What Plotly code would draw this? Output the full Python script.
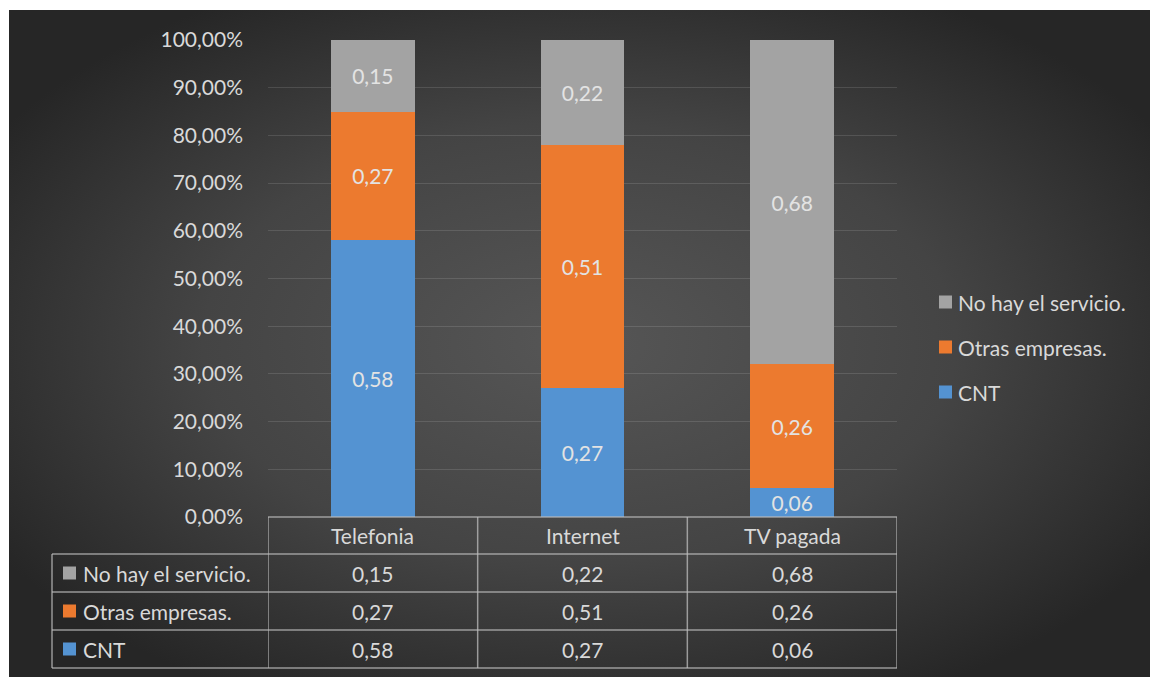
import base64
import plotly.graph_objects as go

# ---- data ----
categories = ["Telefonia", "Internet", "TV pagada"]
series_names = ["CNT", "Otras empresas.", "No hay el servicio."]
cnt = [0.58, 0.27, 0.06]
otras = [0.27, 0.51, 0.26]
no_hay = [0.15, 0.22, 0.68]
y_ticks = [0, 0.1, 0.2, 0.3, 0.4, 0.5, 0.6, 0.7, 0.8, 0.9, 1.0]

series_values = [cnt, otras, no_hay]
colors = ["#5493d2", "#ec7a2f", "#a3a3a3"]

W, H = 1150, 677
L, R, T, B = 268, 1150 - 897, 40, 677 - 517
PW, PH = W - L - R, H - T - B
FONT = "Lato, Calibri, Carlito, sans-serif"
FS = 21
TXT = "#d9d9d9"
LINE = "rgba(190,190,190,0.75)"


def px(xp):
    return (xp - L) / PW


def py(yp):
    return (H - B - yp) / PH


def fmt(v):
    return f"{v:.2f}".replace(".", ",")


fig = go.Figure()
for name, vals, col in zip(series_names, series_values, colors):
    fig.add_trace(go.Bar(
        x=list(range(len(categories))), y=vals, name=name,
        marker=dict(color=col, line=dict(width=0)),
        width=0.4,
        text=[fmt(v) for v in vals], textposition="inside",
        insidetextanchor="middle", textangle=0,
        textfont=dict(family=FONT, size=FS, color="#e3e3e3"),
        showlegend=False, hoverinfo="skip",
    ))

# background radial gradient
svg = f"""<svg xmlns='http://www.w3.org/2000/svg' width='{W-9}' height='{H-10}' viewBox='0 0 100 100' preserveAspectRatio='none'>
<defs><radialGradient id='g' cx='50%' cy='50%' r='60%'>
<stop offset='0%' stop-color='#565656'/><stop offset='55%' stop-color='#444444'/><stop offset='100%' stop-color='#262626'/>
</radialGradient></defs><rect x='0' y='0' width='100' height='100' fill='url(#g)'/></svg>"""
src = "data:image/svg+xml;base64," + base64.b64encode(svg.encode()).decode()

shapes = []
annotations = []

# table geometry (pixel rows)
row_edges = [517, 554, 592, 630, 668]
label_left = 52
bounds = [-0.5, 0.5, 1.5, 2.5]
line = dict(color=LINE, width=1.5)

# horizontal lines
shapes.append(dict(type="line", xref="paper", yref="paper", x0=0, x1=1, y0=py(517), y1=py(517), line=line))
for ye in row_edges[1:]:
    shapes.append(dict(type="line", xref="paper", yref="paper", x0=px(label_left), x1=1, y0=py(ye), y1=py(ye), line=line))
# vertical lines
shapes.append(dict(type="line", xref="paper", yref="paper", x0=px(label_left), x1=px(label_left), y0=py(554), y1=py(668), line=line))
for b in bounds:
    shapes.append(dict(type="line", xref="x", yref="paper", x0=b, x1=b, y0=py(517), y1=py(668), line=line))

# header
for i, c in enumerate(categories):
    annotations.append(dict(x=i, xref="x", y=py((517 + 554) / 2), yref="paper", text=c, showarrow=False,
                            font=dict(family=FONT, size=FS, color=TXT), xanchor="center", yanchor="middle"))

# table rows: reversed order (top row is last series)
table_order = [2, 1, 0]
for r, si in enumerate(table_order):
    yc = (row_edges[r + 1] + row_edges[r + 2]) / 2
    shapes.append(dict(type="rect", xref="paper", yref="paper", xsizemode="pixel", ysizemode="pixel",
                       xanchor=px(63), yanchor=py(yc), x0=0, x1=13, y0=-6.5, y1=6.5,
                       fillcolor=colors[si], line=dict(width=0)))
    annotations.append(dict(x=px(81), xref="paper", y=py(yc), yref="paper", text=series_names[si], showarrow=False,
                            font=dict(family=FONT, size=FS, color=TXT), xanchor="left", yanchor="middle"))
    for i, v in enumerate(series_values[si]):
        annotations.append(dict(x=i, xref="x", y=py(yc), yref="paper", text=fmt(v), showarrow=False,
                                font=dict(family=FONT, size=FS, color=TXT), xanchor="center", yanchor="middle"))

# legend (manual)
legend_y = [302, 347, 392]
for k, si in enumerate(table_order):
    shapes.append(dict(type="rect", xref="paper", yref="paper", xsizemode="pixel", ysizemode="pixel",
                       xanchor=px(939), yanchor=py(legend_y[k]), x0=0, x1=13, y0=-6.5, y1=6.5,
                       fillcolor=colors[si], line=dict(width=0)))
    annotations.append(dict(x=px(956), xref="paper", y=py(legend_y[k]), yref="paper", text=series_names[si],
                            showarrow=False, font=dict(family=FONT, size=FS, color=TXT),
                            xanchor="left", yanchor="middle"))

fig.update_layout(
    width=W, height=H,
    margin=dict(l=L, r=R, t=T, b=B, autoexpand=False),
    barmode="stack",
    separators=",.",
    paper_bgcolor="white",
    plot_bgcolor="rgba(0,0,0,0)",
    uniformtext=dict(mode="show", minsize=FS),
    images=[dict(source=src, xref="paper", yref="paper", x=px(9), y=py(10), sizex=(W - 9) / PW,
                 sizey=(H - 10) / PH, sizing="stretch", layer="below", xanchor="left", yanchor="top")],
    shapes=shapes,
    annotations=annotations,
    xaxis=dict(range=[-0.5, 2.5], showticklabels=False, showgrid=False, zeroline=False, showline=False,
               fixedrange=True),
    yaxis=dict(range=[0, 1], tickvals=y_ticks, tickformat=".2%", showgrid=True,
               gridcolor="rgba(255,255,255,0.12)", gridwidth=1, zeroline=False, showline=False,
               ticks="", ticklabelstandoff=24,
               tickfont=dict(family=FONT, size=FS, color=TXT)),
    font=dict(family=FONT, color=TXT),
)

fig.write_html("out.html")
